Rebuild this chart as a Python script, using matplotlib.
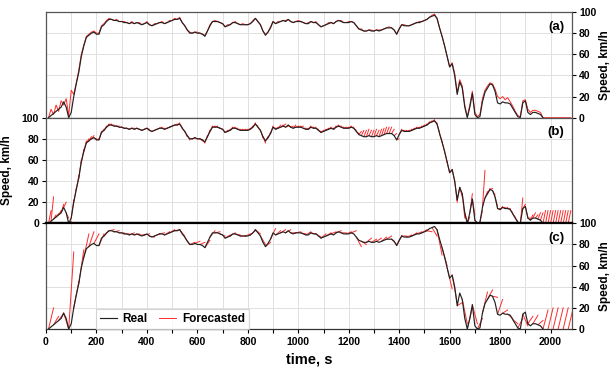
import numpy as np
import matplotlib
matplotlib.use("Agg")
import matplotlib.pyplot as plt

plt.rcParams['font.family'] = ['Liberation Sans', 'DejaVu Sans']
plt.rcParams['font.weight'] = 'bold'

# measured speed, km/h, every 10 s from t = 10 s
time = np.arange(10, 2090, 10)
real = [0, 2, 4, 6, 8, 10, 15, 10, 0, 5,
        20, 32, 43, 58, 68, 76, 78, 80, 81, 79,
        79, 86, 88, 91, 93, 93, 92, 92, 91, 91,
        90, 90, 89, 90, 89, 90, 89, 88, 89, 90,
        88, 87, 88, 89, 90, 90, 89, 90, 91, 92,
        93, 93, 94, 90, 87, 83, 80, 80, 81, 80,
        80, 79, 77, 82, 87, 91, 91, 91, 90, 89,
        86, 87, 88, 90, 90, 89, 88, 88, 88, 88,
        89, 91, 94, 91, 88, 82, 78, 81, 85, 91,
        89, 90, 91, 92, 91, 93, 91, 90, 91, 91,
        91, 90, 89, 89, 91, 90, 90, 88, 86, 87,
        88, 89, 90, 89, 91, 92, 91, 90, 90, 90,
        91, 90, 87, 84, 83, 82, 82, 83, 82, 82,
        83, 82, 83, 84, 85, 85, 85, 83, 79, 84,
        88, 87, 87, 87, 88, 89, 90, 90, 91, 92,
        93, 95, 96, 97, 94, 85, 77, 68, 58, 48,
        51, 40, 22, 34, 28, 10, 0, 10, 23, 3,
        0, 1, 15, 24, 28, 32, 31, 25, 14, 13,
        15, 14, 14, 13, 9, 5, 1, 0, 14, 16,
        5, 3, 5, 5, 4, 3, 0, 0, 0, 0,
        0, 0, 0, 0, 0, 0, 0, 0]
real_end = 1970

# (a) forecast, same time grid
fc_a = [0, 8, 3, 12, 6, 16, 12, 18, 2, 26,
        22, 33, 45, 60, 69, 77, 79, 81, 82, 80,
        80, 87, 89, 92, 94, 93, 92, 93, 91, 91,
        91, 90, 89, 91, 89, 90, 90, 88, 89, 91,
        88, 87, 89, 89, 90, 91, 89, 90, 92, 92,
        94, 93, 95, 90, 87, 83, 81, 80, 81, 81,
        80, 79, 78, 82, 88, 91, 92, 91, 90, 89,
        86, 88, 88, 90, 91, 89, 88, 89, 88, 88,
        89, 92, 94, 91, 88, 82, 79, 81, 86, 91,
        89, 91, 91, 92, 92, 93, 91, 90, 91, 92,
        91, 90, 89, 90, 91, 90, 91, 88, 86, 87,
        88, 90, 90, 89, 91, 92, 92, 90, 90, 91,
        91, 90, 87, 84, 84, 82, 82, 83, 83, 82,
        83, 83, 83, 84, 85, 86, 85, 83, 79, 84,
        88, 88, 87, 87, 88, 89, 90, 91, 91, 92,
        93, 95, 97, 98, 94, 85, 77, 68, 58, 48,
        52, 42, 24, 36, 30, 12, 1, 12, 25, 5,
        1, 3, 18, 26, 30, 33, 32, 27, 20, 18,
        20, 17, 19, 15, 11, 6, 2, 1, 16, 17,
        8, 5, 7, 7, 6, 5, 0, 0, 0, 0,
        0, 0, 0, 0, 0, 0, 0, 0]

# (b) speed predicted 10 s ahead, issued every 10 s from t = 10 s
horizon_b = 10
fc_b = [12, 25, 8, 9, 12, 18, 20, 5, 2, 22,
        33, 45, 60, 70, 78, 80, 82, 83, 80, 80,
        87, 89, 92, 94, 94, 93, 92, 92, 91, 90,
        90, 89, 90, 90, 90, 89, 88, 89, 90, 89,
        87, 88, 89, 90, 91, 90, 90, 91, 92, 93,
        94, 95, 91, 87, 82, 79, 80, 81, 80, 80,
        78, 76, 83, 88, 92, 92, 92, 90, 89, 86,
        88, 89, 91, 91, 90, 89, 89, 89, 89, 90,
        92, 95, 92, 88, 81, 76, 82, 86, 92, 90,
        91, 93, 93, 94, 92, 91, 92, 93, 92, 92,
        92, 90, 90, 92, 91, 91, 89, 87, 88, 89,
        90, 91, 90, 92, 93, 92, 91, 91, 91, 92,
        91, 88, 85, 87, 88, 88, 89, 88, 88, 89,
        88, 89, 90, 91, 91, 91, 89, 85, 80, 89,
        88, 88, 88, 89, 90, 91, 91, 92, 93, 94,
        96, 97, 98, 95, 86, 77, 68, 58, 48, 50,
        40, 20, 34, 25, 5, 0, 6, 28, 8, 0,
        0, 12, 50, 30, 33, 33, 27, 16, 14, 16,
        15, 15, 14, 10, 6, 2, 0, 24, 18, 6,
        5, 8, 10, 8, 10, 10, 12, 12, 12, 12,
        12, 12, 12, 12, 12, 12, 12]

# (c) speed predicted 20 s ahead, issued every 20 s from t = 10 s
horizon_c = 20
fc_c = [20, 12, 15, 0, 73, 45, 75, 90, 92, 90,
        90, 93, 94, 93, 91, 90, 91, 90, 89, 90,
        87, 90, 91, 92, 94, 94, 88, 80, 82, 83,
        82, 84, 93, 92, 88, 89, 91, 89, 88, 90,
        93, 90, 80, 82, 95, 93, 94, 94, 91, 92,
        90, 92, 90, 87, 90, 91, 92, 93, 91, 92,
        93, 78, 80, 86, 85, 86, 87, 88, 80, 88,
        88, 89, 91, 92, 94, 92, 88, 70, 60, 38,
        25, 25, 5, 20, 5, 10, 35, 37, 30, 28,
        18, 10, 5, 10, 3, 12, 13, 8, 18, 20,
        20, 20, 20, 20]

real = np.array(real, dtype=float)


def segments(t0, v0, v1, h):
    xs = np.column_stack([t0, t0 + h, np.full(len(t0), np.nan)]).ravel()
    ys = np.column_stack([v0, v1, np.full(len(t0), np.nan)]).ravel()
    return xs, ys


fig, axes = plt.subplots(3, 1, figsize=(6.1, 3.72), dpi=100, sharex=True)
fig.subplots_adjust(left=0.0754, right=0.9377, top=0.9677, bottom=0.1156, hspace=0)

rec = time <= real_end
tb = time[:-1]
xb, yb = segments(tb, real[:-1], np.array(fc_b), horizon_b)
tc = time[:-1][::2]
xc, yc = segments(tc, real[:-1][::2], np.array(fc_c), horizon_c)

forecasts = [(time, np.array(fc_a)), (xb, yb), (xc, yc)]
sides = ['right', 'left', 'right']
tags = ['(a)', '(b)', '(c)']

for ax, (fx, fy), side, tag in zip(axes, forecasts, sides, tags):
    ax.plot(fx, fy, color='#ff2a2a', lw=0.7, label='Forecasted', zorder=2)
    ax.plot(time[rec], real[rec], color='#222222', lw=0.85, label='Real', zorder=3)
    ax.set_xlim(0, 2085)
    ax.set_ylim(0, 100)
    ax.set_yticks(range(0, 101, 20))
    ax.set_xticks(range(0, 2001, 200))
    ax.set_xticks(range(0, 2085, 100), minor=True)
    ax.grid(True, which='both', color='#e0e0e0', lw=0.7, zorder=0)
    ax.yaxis.set_label_position(side)
    if side == 'right':
        ax.yaxis.tick_right()
    ax.tick_params(axis='y', labelsize=7.5, width=0.8, length=3, pad=2)
    ax.tick_params(axis='x', which='both', labelsize=7.5, width=0.8, length=3, pad=3)
    for s in ax.spines.values():
        s.set_color('#555555')
        s.set_linewidth(0.9)
    ax.text(0.985, 0.86, tag, transform=ax.transAxes, ha='right', va='center',
            fontsize=9.5, fontweight='bold')
    pad = 2 if side == 'right' else 6
    ax.set_ylabel('Speed, km/h', fontsize=8.5, fontweight='bold', labelpad=pad)

axes[0].tick_params(axis='x', which='both', bottom=False)
axes[1].tick_params(axis='x', which='both', bottom=False)
axes[1].spines['bottom'].set_color('black')
axes[1].spines['bottom'].set_linewidth(1.6)
axes[2].spines['top'].set_color('black')
axes[2].spines['top'].set_linewidth(1.6)
axes[2].spines['bottom'].set_color('#333333')
axes[2].set_xlabel('time, s', fontsize=10.5, fontweight='bold', labelpad=4)

h, l = axes[2].get_legend_handles_labels()
leg = axes[2].legend(h[::-1], l[::-1], loc='lower left', bbox_to_anchor=(0.095, 0.0),
                     ncol=2, fontsize=8.5, frameon=True, fancybox=False,
                     handlelength=1.4, columnspacing=1.0, handletextpad=0.5,
                     borderaxespad=0.0, borderpad=0.35)
leg.get_frame().set_edgecolor('#cccccc')
leg.get_frame().set_linewidth(0.8)
for t in leg.get_texts():
    t.set_fontweight('bold')

fig.savefig('out.png', dpi=100)
